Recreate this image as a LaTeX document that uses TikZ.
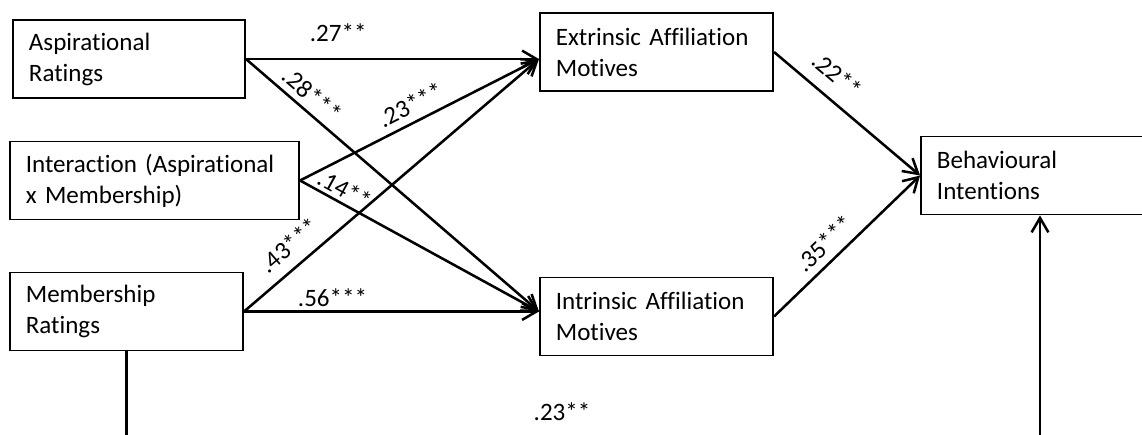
\documentclass[tikz,border=0pt]{standalone}
\usepackage{fontspec}
\setmainfont{Carlito}[Ligatures=NoCommon]
\usetikzlibrary{arrows.meta,positioning}
\tikzset{
  >={Straight Barb[length=3.6mm,width=4.2mm]},
  % boxes
  var/.style={draw=black,line width=1.3pt,align=left,inner xsep=0.4cm,
              inner ysep=0pt,minimum height=1.95cm,
              font=\fontsize{17.8pt}{22pt}\selectfont},
  % paths
  pth/.style={->,draw=black,line width=1.8pt},
  ln/.style={draw=black,line width=1.8pt},
  coef/.style={font=\fontsize{17.8pt}{22pt}\selectfont,inner sep=0pt,
               sloped,above=#1},
}

\begin{document}
\begin{tikzpicture}[x=0.025cm,y=-0.025cm]
\path[use as bounding box] (0,0) rectangle (1142,434);
\clip (0,0) rectangle (1142,434);
  \node[var,text width=5.0cm]  (asp)   at (129,59)      {Aspirational\\Ratings};
  \node[var,text width=6.43cm] (inter) at (154.5,180.5) {Interaction (Aspirational\\x Membership)};
  \node[var,text width=5.03cm] (memb)  at (126.5,311.5) {Membership\\Ratings};
  \node[var,text width=5.03cm] (extr)  at (656.5,52)    {Extrinsic Affiliation\\Motives};
  \node[var,text width=5.03cm] (intr)  at (656.5,316.5) {Intrinsic Affiliation\\Motives};
  \node[var,text width=5.15cm] (behav) at (1040,175.5)  {Behavioural\\Intentions};
  \coordinate (ein) at (asp.east -| extr.west);
  \coordinate (iin) at (memb.east -| intr.west);
  \coordinate (mdown) at (memb.south |- 0,438);
  \coordinate (bup) at (behav.south |- 0,438);
  \draw[pth] (asp) -- node[coef=0.4cm,pos=0.315] {.27**} (ein);
  \draw[pth] (asp.east) -- node[coef=0.15cm,pos=0.19] {.28***} (iin);
  \draw[pth] (inter.east) -- node[coef=0.18cm,pos=0.495] {.23***} (ein);
  \draw[pth] (inter.east) -- node[coef=0.08cm,pos=0.16] {.14**} (iin);
  \draw[pth] (memb.east) -- node[coef=0.27cm,pos=0.2] {.43***} (ein);
  \draw[pth] (memb.east) -- node[coef=0.09cm,pos=0.3] {.56***} (iin);
  \draw[pth] (extr.east) -- node[coef=0.33cm,pos=0.33] {.22**} (behav.west);
  \draw[pth] (intr.east) -- node[coef=0.18cm,pos=0.43] {.35***} (behav.west);
  \draw[ln] (memb.south) -- (mdown);
  \draw[pth] (bup) -- (behav.south);
  \node[font=\fontsize{17.8pt}{22pt}\selectfont,inner sep=0pt] (lbot) at (562,412) {.23**};
\end{tikzpicture}
\end{document}
